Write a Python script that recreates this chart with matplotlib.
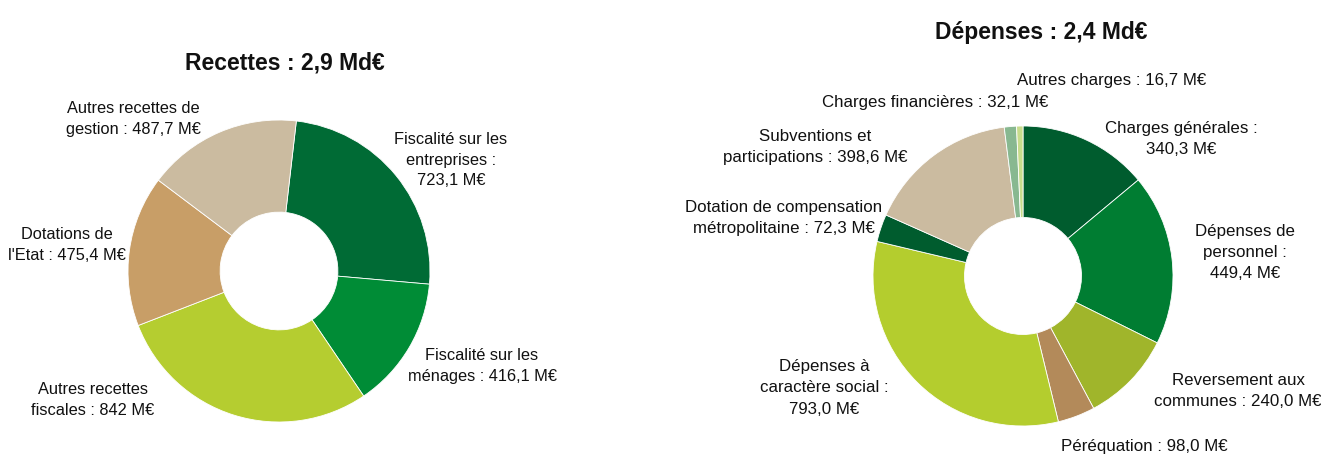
import matplotlib
matplotlib.use('Agg')
import matplotlib.pyplot as plt

# =============================================================================
# DONNÉES
# =============================================================================

recettes_labels = [
    "Fiscalité sur les\nentreprises :\n723,1 M€",
    "Fiscalité sur les\nménages : 416,1 M€",
    "Autres recettes\nfiscales : 842 M€",
    "Dotations de\nl'Etat : 475,4 M€",
    "Autres recettes de\ngestion : 487,7 M€",
]
recettes_values = [723.1, 416.1, 842.0, 475.4, 487.7]
recettes_colors = ['#006B35', '#008C36', '#B5CD30', '#C89E67', '#CBBBA0']

depenses_labels = [
    "Charges générales :\n340,3 M€",
    "Dépenses de\npersonnel :\n449,4 M€",
    "Reversement aux\ncommunes : 240,0 M€",
    "Péréquation : 98,0 M€",
    "Dépenses à\ncaractère social :\n793,0 M€",
    "Dotation de compensation\nmétropolitaine : 72,3 M€",
    "Subventions et\nparticipations : 398,6 M€",
    "Charges financières : 32,1 M€",
    "Autres charges : 16,7 M€",
]
depenses_values = [340.3, 449.4, 240.0, 98.0, 793.0, 72.3, 398.6, 32.1, 16.7]
depenses_colors = ['#005C2E', '#007D32', '#A0B52B', '#B38A5A', '#B4CD2E',
                   '#005C2E', '#CBBBA0', '#88B890', '#C8DC8C']

titre_recettes = "Recettes : 2,9 Md€"
titre_depenses = "Dépenses : 2,4 Md€"

# positions des étiquettes (pixels, centre du texte)
recettes_pos = [(451, 160), (482, 366), (93, 400), (67, 245), (133, 119)]
depenses_pos = [(1181, 139), (1245, 253), (1238, 391), (1144, 447),
                (824, 388), (784, 218), (815, 147), (935, 102), (1112, 81)]

# =============================================================================
# FIGURE
# =============================================================================

W, H = 1321, 457
plt.rcParams['font.family'] = ['Liberation Sans', 'DejaVu Sans']

fig = plt.figure(figsize=(W / 100, H / 100), dpi=100)


def donut(cx, cy, r, values, colors, startangle):
    ax = fig.add_axes([(cx - r) / W, 1 - (cy + r) / H, 2 * r / W, 2 * r / H])
    ax.pie(values, colors=colors, startangle=startangle, counterclock=False,
           radius=1, wedgeprops=dict(width=0.61, edgecolor='white', linewidth=0.6))
    ax.set_xlim(-1, 1)
    ax.set_ylim(-1, 1)
    ax.axis('off')
    return ax


donut(279, 271, 151, recettes_values, recettes_colors, 83.4)
donut(1023, 276, 150, depenses_values, depenses_colors, 90)


def put_text(x, y, s, **kw):
    fig.text(x / W, 1 - y / H, s, ha='center', va='center', **kw)


put_text(285, 63, titre_recettes, fontsize=16.5, fontweight='bold', color='#111111')
put_text(1041, 32, titre_depenses, fontsize=16.5, fontweight='bold', color='#111111')

for lab, (x, y) in zip(recettes_labels, recettes_pos):
    put_text(x, y, lab, fontsize=11.8, color='#111111', linespacing=1.45)

for lab, (x, y) in zip(depenses_labels, depenses_pos):
    put_text(x, y, lab, fontsize=12.2, color='#111111', linespacing=1.5)

fig.savefig('out.png', dpi=100)
